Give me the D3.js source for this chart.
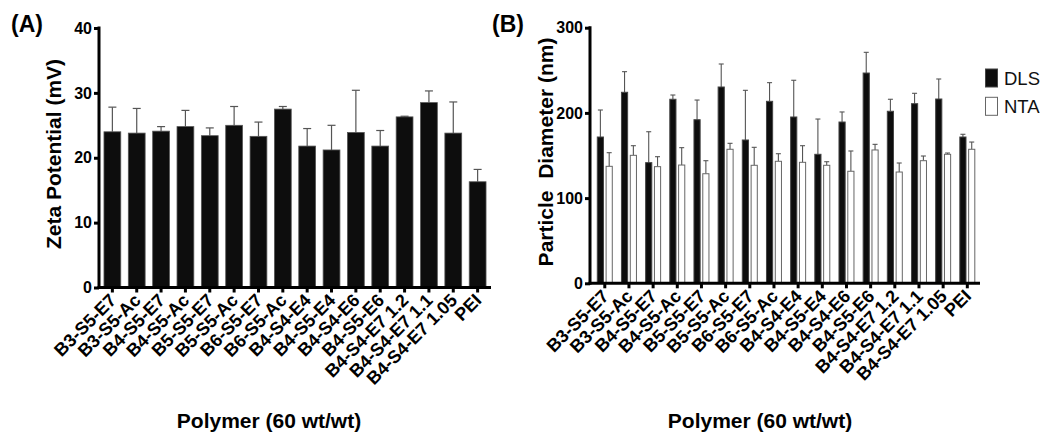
<!DOCTYPE html>
<html><head><meta charset="utf-8">
<script src="https://cdn.jsdelivr.net/npm/d3@7"></script>
<style>
body{margin:0;background:#fff}
text{font-family:"Liberation Sans",Arial,Helvetica,sans-serif}
</style>
</head><body><svg id="c" width="1050" height="440"></svg>
<script>
const categories=["B3-S5-E7","B3-S5-Ac","B4-S5-E7","B4-S5-Ac","B5-S5-E7","B5-S5-Ac","B6-S5-E7","B6-S5-Ac","B4-S4-E4","B4-S5-E4","B4-S4-E6","B4-S5-E6","B4-S4-E7 1.2","B4-S4-E7 1.1","B4-S4-E7 1.05","PEI"];
const zeta=[24.0,23.8,24.1,24.8,23.4,25.0,23.3,27.5,21.8,21.2,23.9,21.8,26.3,28.5,23.8,16.3];
const zetaSD=[3.8,3.8,0.7,2.5,1.2,2.9,2.2,0.4,2.7,3.8,6.5,2.4,0.1,1.8,4.8,1.9];
const dls=[171.7,224.2,141.6,216.0,192.0,230.4,168.2,213.6,195.2,151.4,189.3,246.8,201.9,210.8,216.3,171.7];
const dlsSD=[31.7,24.2,36.3,5.0,23.1,27.0,58.3,21.9,43.1,41.4,11.8,24.3,14.1,12.2,23.5,3.2];
const nta=[137.3,150.2,136.9,138.8,128.6,157.3,138.5,143.2,142.0,138.5,131.5,156.5,130.6,143.9,151.4,157.3];
const ntaSD=[16.0,11.3,11.7,20.4,15.3,7.0,21.1,8.9,19.5,4.2,23.8,6.6,10.6,5.5,1.5,8.5];
const seriesNames=["DLS","NTA"];
const zetaTicks=[0,10,20,30,40];
const sizeTicks=[0,100,200,300];

const svg=d3.select("#c");
const errColor="#555";

function styleYAxis(g){
  g.select(".domain").remove();
  g.selectAll(".tick line").attr("stroke","#000").attr("stroke-width",3);
  g.selectAll(".tick text").attr("font-size",16).attr("font-weight","bold").attr("fill","#000");
}
function styleXAxis(g){
  g.select(".domain").remove();
  g.selectAll(".tick line").attr("stroke","#000").attr("stroke-width",3);
  g.selectAll(".tick text").attr("font-size",18).attr("font-weight","bold").attr("fill","#000")
    .attr("x",0).attr("y",0).attr("dy",0).attr("text-anchor","end")
    .attr("transform","translate(5,14) rotate(-45)");
}

// ---------- Panel A ----------
const xA=d3.scaleBand().domain(categories).range([100.2,489.8]).paddingInner(0.31).paddingOuter(0.155);
const yA=d3.scaleLinear().domain([0,40]).range([287.5,28]);
const gA=svg.append("g");
const zdata=categories.map((c,i)=>({c,v:zeta[i],e:zetaSD[i]}));
const eA=gA.append("g").attr("stroke",errColor).attr("stroke-width",1.2);
zdata.forEach(d=>{
  const cx=xA(d.c)+xA.bandwidth()/2;
  eA.append("line").attr("x1",cx).attr("x2",cx).attr("y1",yA(d.v)).attr("y2",yA(d.v+d.e));
  eA.append("line").attr("x1",cx-4).attr("x2",cx+4).attr("y1",yA(d.v+d.e)).attr("y2",yA(d.v+d.e));
});
gA.append("g").selectAll("rect").data(zdata).join("rect")
  .attr("x",d=>xA(d.c)).attr("width",xA.bandwidth())
  .attr("y",d=>yA(d.v)).attr("height",d=>yA(0)-yA(d.v))
  .attr("fill","#0d0d0d").attr("stroke","#555").attr("stroke-width",0.8);
gA.append("g").attr("transform","translate(99,0)")
  .call(d3.axisLeft(yA).tickValues(zetaTicks).tickSize(5).tickSizeOuter(0).tickPadding(2)).call(styleYAxis);
gA.append("g").attr("transform","translate(0,287.5)")
  .call(d3.axisBottom(xA).tickSize(5).tickSizeOuter(0)).call(styleXAxis);
gA.append("line").attr("x1",99).attr("x2",99).attr("y1",26.5).attr("y2",289).attr("stroke","#000").attr("stroke-width",3);
gA.append("line").attr("x1",97.5).attr("x2",491).attr("y1",287.5).attr("y2",287.5).attr("stroke","#000").attr("stroke-width",3);
gA.append("text").attr("transform","translate(61,154) rotate(-90)").attr("text-anchor","middle")
  .attr("font-size",21).attr("font-weight","bold").text("Zeta Potential (mV)");
gA.append("text").attr("x",269).attr("y",428).attr("text-anchor","middle")
  .attr("font-size",21).attr("font-weight","bold").text("Polymer (60 wt/wt)");
gA.append("text").attr("x",11).attr("y",32).attr("font-size",23).attr("font-weight","bold").text("(A)");

// ---------- Panel B ----------
const xB=d3.scaleBand().domain(categories).range([592.7,979.4]).paddingInner(0.38).paddingOuter(0.19);
const xB1=d3.scaleBand().domain(seriesNames).range([0,xB.bandwidth()]).paddingInner(0.3);
const yB=d3.scaleLinear().domain([0,300]).range([283.3,27.7]);
const gB=svg.append("g");
const bdata=[];
categories.forEach((c,i)=>{
  bdata.push({c,s:"DLS",v:dls[i],e:dlsSD[i]});
  bdata.push({c,s:"NTA",v:nta[i],e:ntaSD[i]});
});
const eB=gB.append("g").attr("stroke",errColor).attr("stroke-width",1.1);
bdata.forEach(d=>{
  const cx=xB(d.c)+xB1(d.s)+xB1.bandwidth()/2;
  eB.append("line").attr("x1",cx).attr("x2",cx).attr("y1",yB(d.v)).attr("y2",yB(d.v+d.e));
  eB.append("line").attr("x1",cx-2.5).attr("x2",cx+2.5).attr("y1",yB(d.v+d.e)).attr("y2",yB(d.v+d.e));
});
gB.append("g").selectAll("rect").data(bdata).join("rect")
  .attr("x",d=>xB(d.c)+xB1(d.s)).attr("width",xB1.bandwidth())
  .attr("y",d=>yB(d.v)).attr("height",d=>yB(0)-yB(d.v))
  .attr("fill",d=>d.s==="DLS"?"#0d0d0d":"#fff")
  .attr("stroke",d=>d.s==="DLS"?"#444":"#666").attr("stroke-width",1);
gB.append("g").attr("transform","translate(590,0)")
  .call(d3.axisLeft(yB).tickValues(sizeTicks).tickSize(5).tickSizeOuter(0).tickPadding(2)).call(styleYAxis);
gB.append("g").attr("transform","translate(0,283.3)")
  .call(d3.axisBottom(xB).tickSize(5).tickSizeOuter(0)).call(styleXAxis);
gB.append("line").attr("x1",590).attr("x2",590).attr("y1",26.2).attr("y2",284.8).attr("stroke","#000").attr("stroke-width",3);
gB.append("line").attr("x1",588.5).attr("x2",980).attr("y1",283.3).attr("y2",283.3).attr("stroke","#000").attr("stroke-width",3);
gB.append("text").attr("transform","translate(553,152) rotate(-90)").attr("text-anchor","middle")
  .attr("font-size",21).attr("font-weight","bold").style("white-space","pre").text("Particle  Diameter (nm)");
gB.append("text").attr("x",760).attr("y",428).attr("text-anchor","middle")
  .attr("font-size",21).attr("font-weight","bold").text("Polymer (60 wt/wt)");
gB.append("text").attr("x",492).attr("y",32).attr("font-size",23).attr("font-weight","bold").text("(B)");

// legend
const leg=svg.append("g");
seriesNames.forEach((s,i)=>{
  const y0=69+i*28.3;
  leg.append("rect").attr("x",985.5).attr("y",y0).attr("width",12).attr("height",18)
    .attr("fill",s==="DLS"?"#0d0d0d":"#fff").attr("stroke",s==="DLS"?"#444":"#666").attr("stroke-width",1);
  leg.append("text").attr("x",1004).attr("y",y0+16).attr("font-size",18.5).attr("fill","#111").text(s);
});
</script></body></html>
